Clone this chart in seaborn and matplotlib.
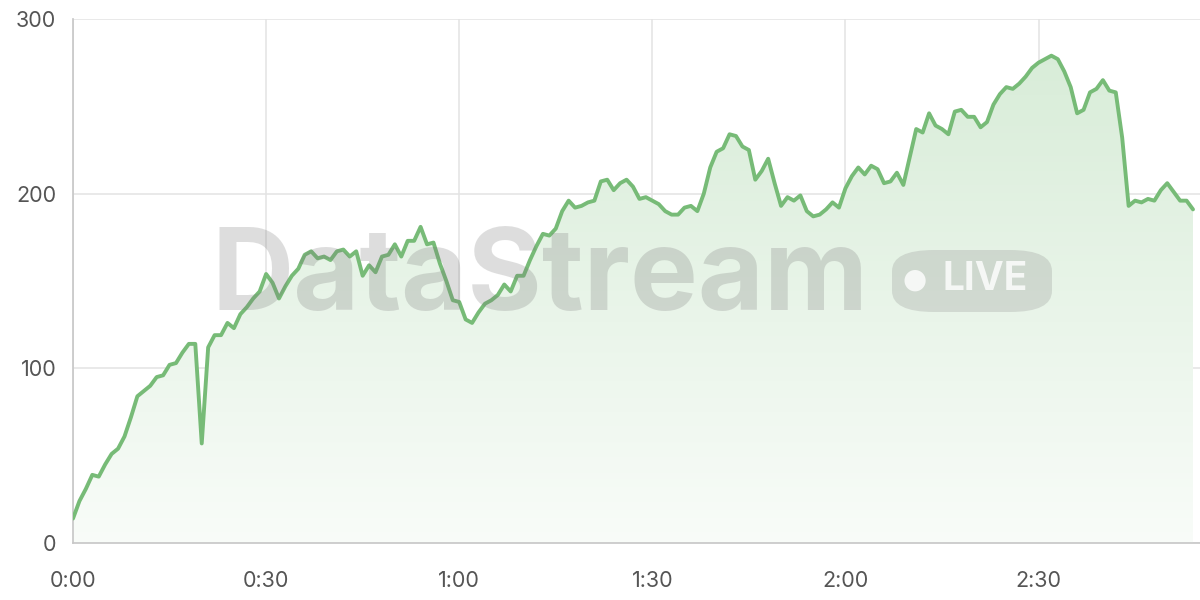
import numpy as np
import matplotlib
matplotlib.use("Agg")
import matplotlib.pyplot as plt
import seaborn as sns
import pandas as pd
from matplotlib.patches import FancyBboxPatch
from matplotlib.colors import LinearSegmentedColormap

values = [14,24,31,39,38,45,51,54,61,72,84,87,90,95,96,102,103,109,114,114,
          57,112,119,119,126,123,131,135,140,144,154,149,140,147,153,157,165,167,163,164,
          162,167,168,164,167,153,159,155,164,165,171,164,173,173,181,171,172,160,150,139,
          138,128,126,132,137,139,142,148,144,153,153,162,170,177,176,180,190,196,192,193,
          195,196,207,208,202,206,208,204,197,198,196,194,190,188,188,192,193,190,200,215,
          224,226,234,233,227,225,208,213,220,206,193,198,196,199,190,187,188,191,195,192,
          203,210,215,211,216,214,206,207,212,205,221,237,235,246,239,237,234,247,248,244,
          244,238,241,251,257,261,260,263,267,272,275,277,279,277,270,261,246,248,258,260,
          265,259,258,232,193,196,195,197,196,202,206,201,196,196,191]
minutes = list(range(len(values)))
tick_minutes = [0, 30, 60, 90, 120, 150]
tick_labels = ["0:00", "0:30", "1:00", "1:30", "2:00", "2:30"]
y_ticks = [0, 100, 200, 300]

df = pd.DataFrame({"minute": minutes, "value": values})
sns.set_theme(style="white")
plt.rcParams["font.family"] = ["Inter", "DejaVu Sans"]
fig = plt.figure(figsize=(12, 6), dpi=100)
ax = fig.add_axes([73/1200, 57/600, 1127/1200, 524/600])
green = "#77bb77"

xmax = (len(values) - 1) * 1127 / 1120
ax.set_xlim(0, xmax)
ax.set_ylim(0, 300)

grad = np.linspace(0.05, 0.32, 256).reshape(-1, 1)
cmap = LinearSegmentedColormap.from_list("g", ["#ffffff", "#7ec27e"])
poly = ax.fill_between(df["minute"], df["value"], 0, color="none", lw=0)
im = ax.imshow(grad, aspect="auto", cmap=cmap, vmin=0, vmax=1, origin="lower",
               extent=[0, len(values) - 1, 0, 300], zorder=1)
im.set_clip_path(poly.get_paths()[0], transform=ax.transData)
sns.lineplot(data=df, x="minute", y="value", ax=ax, color=green, lw=2.8, zorder=3)

ax.set_xticks(tick_minutes)
ax.set_xticklabels(tick_labels)
ax.set_yticks(y_ticks)
ax.grid(True, color="#e3e3e3", lw=1.1)
ax.set_axisbelow(True)
for s in ["top", "right"]:
    ax.spines[s].set_visible(False)
for s in ["left", "bottom"]:
    ax.spines[s].set_color("#c8c8c8")
ax.tick_params(axis="both", colors="#555555", labelsize=15.5, length=6, color="#c8c8c8")
ax.tick_params(axis="x", pad=14)
ax.tick_params(axis="y", length=0, pad=12)
ax.set_xlabel("")
ax.set_ylabel("")

fig.text(0.450, 0.533, "DataStream", fontsize=82, fontweight="bold", color="#7a7a7a",
         alpha=0.25, ha="center", va="center", family="Inter", zorder=5)
pill = FancyBboxPatch((892/1200, 1 - 312/600), 160/1200, 62/600,
                      boxstyle="round,pad=0,rounding_size=0.035", transform=fig.transFigure,
                      facecolor="#8a8a8a", alpha=0.25, edgecolor="none", zorder=5)
fig.patches.append(pill)
fig.text(915/1200, 1 - 280/600, "●", fontsize=20, color="white", alpha=0.8,
         ha="center", va="center", family="DejaVu Sans", zorder=6)
fig.text(985/1200, 1 - 280/600, "LIVE", fontsize=28, fontweight="bold", color="white",
         alpha=0.8, ha="center", va="center", zorder=6)

fig.savefig("out.png", dpi=100)
